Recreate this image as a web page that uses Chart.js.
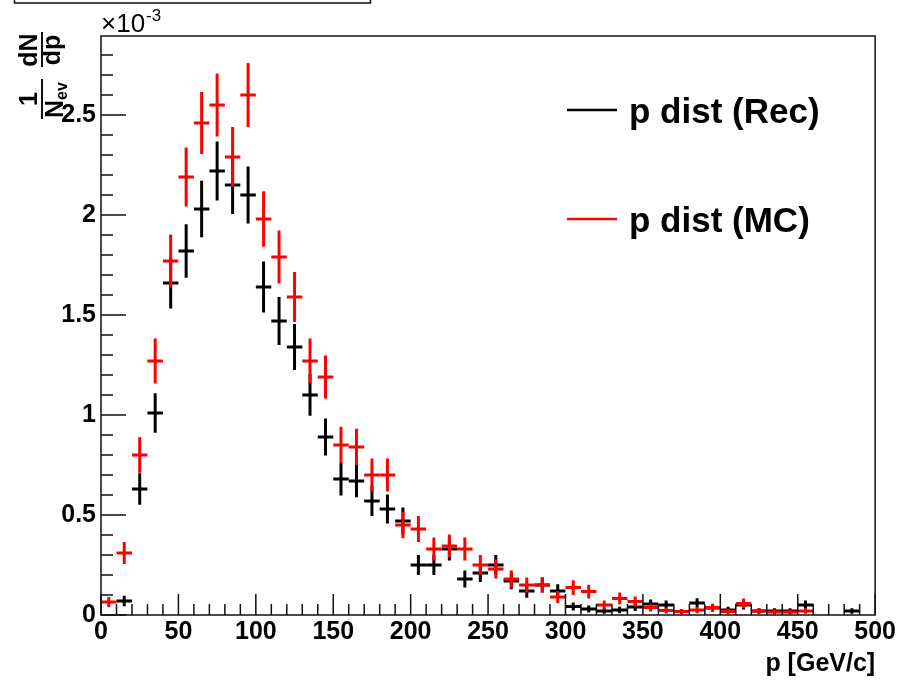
<!DOCTYPE html>
<html lang="en">
<head>
  <meta charset="UTF-8">
  <title>p dist - Rec vs MC</title>
  <style>
    html, body { margin: 0; padding: 0; background: #fff; }
    #wrap { width: 898px; height: 680px; }
  </style>
  <script src="https://cdn.jsdelivr.net/npm/chart.js"></script>
</head>
<body>
  <div id="wrap"><canvas id="pChart" width="898" height="680"></canvas></div>

  <script>
    // bin centres in GeV/c (10 GeV bins)
    const binCenters = [5, 15, 25, 35, 45, 55, 65, 75, 85, 95,
                        105, 115, 125, 135, 145, 155, 165, 175, 185, 195,
                        205, 215, 225, 235, 245, 255, 265, 275, 285, 295,
                        305, 315, 325, 335, 345, 355, 365, 375, 385, 395,
                        405, 415, 425, 435, 445, 455, 465, 475, 485, 495];

    // 1/Nev dN/dp, in units of 1e-3
    const recValues = [0, 0.07, 0.63, 1.01, 1.66, 1.82, 2.03, 2.22, 2.15, 2.10,
                       1.64, 1.47, 1.34, 1.10, 0.89, 0.68, 0.67, 0.57, 0.53, 0.47,
                       0.25, 0.25, 0.33, 0.18, 0.21, 0.25, 0.17, 0.12, 0.15, 0.12,
                       0.042, 0.03, 0.02, 0.025, 0.04, 0.055, 0.05, 0.017, 0.06, 0.035,
                       0.025, 0.05, 0.02, 0.02, 0.02, 0.05, 0, 0, 0.02, 0];
    const recErrors = [0, 0.026, 0.079, 0.099, 0.128, 0.134, 0.141, 0.148, 0.145, 0.143,
                       0.127, 0.120, 0.115, 0.104, 0.093, 0.082, 0.081, 0.075, 0.072, 0.068,
                       0.050, 0.050, 0.057, 0.042, 0.045, 0.050, 0.041, 0.034, 0.038, 0.034,
                       0.020, 0.017, 0.014, 0.016, 0.020, 0.023, 0.022, 0.013, 0.024, 0.019,
                       0.016, 0.022, 0.014, 0.014, 0.014, 0.022, 0, 0, 0.014, 0];

    const mcValues = [0.065, 0.31, 0.80, 1.27, 1.77, 2.19, 2.46, 2.55, 2.29, 2.60,
                      1.98, 1.79, 1.59, 1.27, 1.19, 0.85, 0.84, 0.70, 0.70, 0.45,
                      0.43, 0.33, 0.345, 0.33, 0.25, 0.23, 0.18, 0.15, 0.15, 0.09,
                      0.137, 0.117, 0.05, 0.083, 0.067, 0.037, 0.022, 0.017, 0.025, 0.037,
                      0.017, 0.058, 0.02, 0.015, 0.015, 0.02, 0, 0, 0, 0];
    const mcErrors = [0.025, 0.055, 0.089, 0.112, 0.132, 0.147, 0.155, 0.158, 0.150, 0.160,
                      0.139, 0.132, 0.125, 0.112, 0.108, 0.091, 0.091, 0.083, 0.083, 0.066,
                      0.065, 0.057, 0.058, 0.057, 0.050, 0.047, 0.042, 0.038, 0.038, 0.030,
                      0.037, 0.034, 0.022, 0.029, 0.026, 0.019, 0.015, 0.013, 0.016, 0.019,
                      0.013, 0.024, 0.014, 0.012, 0.012, 0.014, 0, 0, 0, 0];

    const xTicks = [0, 50, 100, 150, 200, 250, 300, 350, 400, 450, 500];
    const yTicks = [0, 0.5, 1, 1.5, 2, 2.5];
    const seriesLabels = ['p dist (Rec)', 'p dist (MC)'];

    const FONT = "'Liberation Sans', Arial, Helvetica, sans-serif";
    const binHalf = 5;

    function toPoints(vals, errs) {
      return binCenters.map((x, i) => ({ x: x, y: vals[i], err: errs[i] }));
    }

    // crosses: horizontal bar = bin width, vertical bar = error
    const errorCrosses = {
      id: 'errorCrosses',
      afterDatasetsDraw(chart) {
        const { ctx, chartArea, scales: { x, y } } = chart;
        ctx.save();
        ctx.beginPath();
        ctx.rect(chartArea.left, chartArea.top, chartArea.right - chartArea.left, chartArea.bottom - chartArea.top);
        ctx.clip();
        ctx.lineWidth = 3;
        ctx.lineCap = 'butt';
        chart.data.datasets.forEach(ds => {
          ctx.strokeStyle = ds.borderColor;
          ds.data.forEach(p => {
            if (!p.y || p.y <= 0) return;
            const xl = x.getPixelForValue(p.x - binHalf);
            const xr = x.getPixelForValue(p.x + binHalf);
            const xc = x.getPixelForValue(p.x);
            const yc = y.getPixelForValue(p.y);
            const yt = y.getPixelForValue(p.y + p.err);
            const yb = y.getPixelForValue(Math.max(0, p.y - p.err));
            ctx.beginPath();
            ctx.moveTo(xl, yc); ctx.lineTo(xr, yc);
            ctx.moveTo(xc, yt); ctx.lineTo(xc, yb);
            ctx.stroke();
          });
        });
        ctx.restore();
      }
    };

    // ROOT style frame, inward ticks, y title, exponent, legend
    const decorations = {
      id: 'decorations',
      afterDraw(chart) {
        const { ctx, chartArea: a, scales: { x, y } } = chart;
        ctx.save();
        ctx.strokeStyle = '#111';
        ctx.lineWidth = 1.5;
        ctx.strokeRect(a.left, a.top, a.right - a.left, a.bottom - a.top);

        // y ticks every 0.1, major every 0.5
        ctx.beginPath();
        for (let i = 0; i <= 28; i++) {
          const py = y.getPixelForValue(i / 10);
          const len = (i % 5 === 0) ? 25 : 12;
          ctx.moveTo(a.left, py); ctx.lineTo(a.left + len, py);
        }
        // x ticks every 10, major every 50
        for (let i = 0; i <= 50; i++) {
          const px = x.getPixelForValue(i * 10);
          const len = (i % 5 === 0) ? 21 : 11;
          ctx.moveTo(px, a.bottom); ctx.lineTo(px, a.bottom - len);
        }
        ctx.stroke();

        // cropped title box at top left
        ctx.lineWidth = 1.5;
        ctx.strokeRect(14.5, -10, 356, 13);

        // x10^-3
        ctx.fillStyle = '#000';
        ctx.textAlign = 'left';
        ctx.textBaseline = 'alphabetic';
        ctx.font = '26px ' + FONT;
        ctx.fillText('\u00d710', a.left, 32);
        ctx.font = '17px ' + FONT;
        ctx.fillText('-3', a.left + 45, 21);

        // y title: 1/N_ev dN/dp rotated
        ctx.translate(42, 0);
        ctx.rotate(-Math.PI / 2);
        ctx.lineWidth = 2;
        ctx.beginPath();
        ctx.moveTo(-119, 0); ctx.lineTo(-79, 0);
        ctx.moveTo(-67, 0); ctx.lineTo(-32, 0);
        ctx.stroke();
        ctx.textAlign = 'center';
        ctx.font = 'bold 25px ' + FONT;
        ctx.fillText('1', -99, -5);
        ctx.fillText('dN', -50, -5);
        ctx.fillText('dp', -50, 18);
        ctx.textAlign = 'left';
        ctx.fillText('N', -118, 21);
        const nW = ctx.measureText('N').width;
        ctx.font = 'bold 16px ' + FONT;
        ctx.fillText('ev', -118 + nW, 25);
        ctx.restore();

        // legend
        ctx.save();
        const rows = [110, 219];
        chart.data.datasets.forEach((ds, i) => {
          ctx.strokeStyle = ds.borderColor;
          ctx.lineWidth = 2.5;
          ctx.beginPath();
          ctx.moveTo(567, rows[i]); ctx.lineTo(617, rows[i]);
          ctx.stroke();
          ctx.fillStyle = '#000';
          ctx.font = 'bold 35px ' + FONT;
          ctx.textAlign = 'left';
          ctx.textBaseline = 'middle';
          ctx.fillText(ds.label, 629, rows[i] + 3);
        });
        ctx.restore();
      }
    };

    Chart.defaults.font.family = FONT;
    Chart.defaults.color = '#000';

    const chart = new Chart(document.getElementById('pChart'), {
      type: 'scatter',
      data: {
        datasets: [
          { label: seriesLabels[0], data: toPoints(recValues, recErrors), borderColor: '#000000', backgroundColor: '#000000', pointRadius: 0 },
          { label: seriesLabels[1], data: toPoints(mcValues, mcErrors), borderColor: '#ff0000', backgroundColor: '#ff0000', pointRadius: 0 }
        ]
      },
      options: {
        responsive: false,
        animation: false,
        devicePixelRatio: 1,
        layout: { padding: { top: 36, right: 22, left: 0, bottom: 0 } },
        plugins: { legend: { display: false }, tooltip: { enabled: false } },
        scales: {
          x: {
            type: 'linear', min: 0, max: 500,
            afterFit: s => { s.height = 65; },
            afterBuildTicks: s => { s.ticks = xTicks.map(v => ({ value: v })); },
            grid: { display: false, drawTicks: false },
            border: { display: false },
            ticks: { autoSkip: false, maxRotation: 0, padding: 2, font: { size: 25, weight: 'bold' } },
            title: { display: true, text: 'p [GeV/c]', align: 'end', font: { size: 25, weight: 'bold' }, padding: { top: 0, bottom: 1 } }
          },
          y: {
            type: 'linear', min: 0, max: 2.895,
            afterFit: s => { s.width = 101; },
            afterBuildTicks: s => { s.ticks = yTicks.map(v => ({ value: v })); },
            grid: { display: false, drawTicks: false },
            border: { display: false },
            ticks: { autoSkip: false, padding: 5, font: { size: 25, weight: 'bold' }, callback: v => String(v) }
          }
        }
      },
      plugins: [errorCrosses, decorations]
    });
  </script>
</body>
</html>
